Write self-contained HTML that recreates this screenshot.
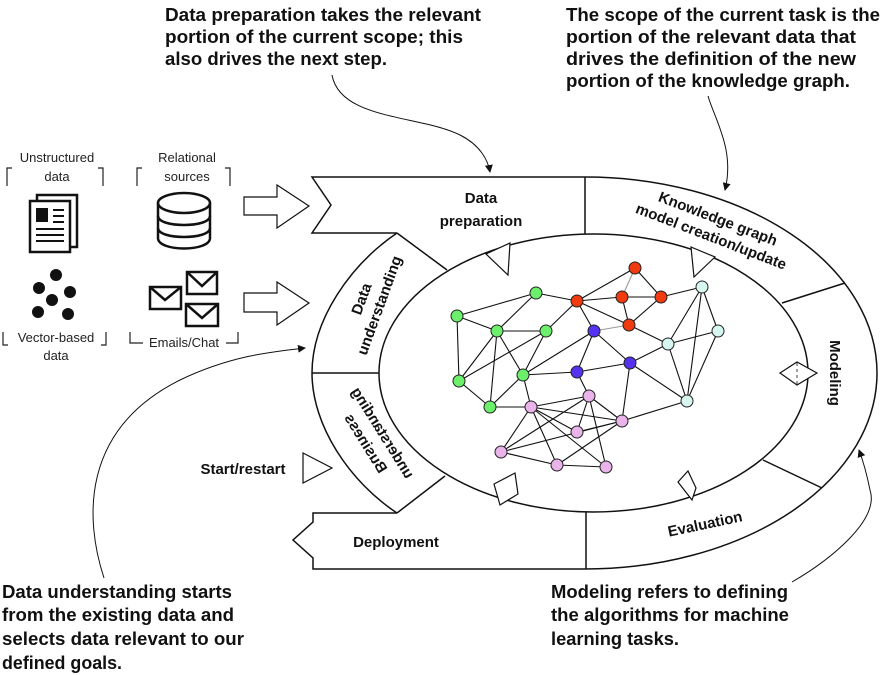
<!DOCTYPE html>
<html><head><meta charset="utf-8"><style>
html,body{margin:0;padding:0;background:#fff;}
svg{display:block;}
.ann{font-family:"Liberation Sans Narrow","Liberation Sans",sans-serif;font-weight:bold;font-size:18px;fill:#111;}
.lb{font-family:"Liberation Sans",sans-serif;font-weight:bold;font-size:15px;fill:#111;}
.sm{font-family:"Liberation Sans",sans-serif;font-size:13px;fill:#222;}
</style></head><body>
<svg width="880" height="675" viewBox="0 0 880 675" xmlns="http://www.w3.org/2000/svg">
<defs><marker id="ah" markerWidth="8" markerHeight="8" refX="7" refY="4" orient="auto" markerUnits="userSpaceOnUse"><path d="M0,0 L8,4 L0,8 z" fill="#111"/></marker></defs>

<text class="ann" x="165" y="21" textLength="316" lengthAdjust="spacingAndGlyphs">Data preparation takes the relevant</text>
<text class="ann" x="165" y="43" textLength="298" lengthAdjust="spacingAndGlyphs">portion of the current scope; this</text>
<text class="ann" x="165" y="65" textLength="222" lengthAdjust="spacingAndGlyphs">also drives the next step.</text>
<text class="ann" x="566" y="21" textLength="314" lengthAdjust="spacingAndGlyphs">The scope of the current task is the</text>
<text class="ann" x="566" y="43" textLength="290" lengthAdjust="spacingAndGlyphs">portion of the relevant data that</text>
<text class="ann" x="566" y="65" textLength="290" lengthAdjust="spacingAndGlyphs">drives the definition of the new</text>
<text class="ann" x="566" y="87" textLength="284" lengthAdjust="spacingAndGlyphs">portion of the knowledge graph.</text>
<text class="ann" x="2" y="598" textLength="230" lengthAdjust="spacingAndGlyphs">Data understanding starts</text>
<text class="ann" x="2" y="621" textLength="232" lengthAdjust="spacingAndGlyphs">from the existing data and</text>
<text class="ann" x="2" y="645" textLength="242" lengthAdjust="spacingAndGlyphs">selects data relevant to our</text>
<text class="ann" x="2" y="669" textLength="120" lengthAdjust="spacingAndGlyphs">defined goals.</text>
<text class="ann" x="551" y="598" textLength="237" lengthAdjust="spacingAndGlyphs">Modeling refers to defining</text>
<text class="ann" x="551" y="621" textLength="238" lengthAdjust="spacingAndGlyphs">the algorithms for machine</text>
<text class="ann" x="551" y="645" textLength="128" lengthAdjust="spacingAndGlyphs">learning tasks.</text>

<g fill="none" stroke="#111" stroke-width="1">
<path d="M332,75 C340,120 420,115 460,135 C480,145 488,160 490,172" marker-end="url(#ah)"/>
<path d="M708,96 C715,120 735,150 725,190" marker-end="url(#ah)"/>
<path d="M104,578 C85,520 80,430 180,380 C230,356 270,352 305,348" marker-end="url(#ah)"/>
<path d="M792,582 C830,560 880,520 870,490 C866,470 862,458 859,450" marker-end="url(#ah)"/>
</g>

<g fill="none" stroke="#111" stroke-width="1.5">
<path d="M397,233 L312,233 L331,205 L312,177 L585,177 A292,196 0 0 1 585,569 L313,569 L313,558 L293,540 L313,522 L313,513 L397,513"/>
<path d="M397,233 C350,265 312,320 312,373 C312,426 350,482 397,513"/>
<ellipse cx="593.5" cy="373" rx="214.5" ry="139"/>
<line x1="585" y1="177" x2="585" y2="234"/>
<line x1="586" y1="512" x2="586" y2="569"/>
<line x1="312" y1="373" x2="379" y2="373"/>
<line x1="397" y1="233" x2="447" y2="270"/>
<line x1="397" y1="513" x2="445" y2="476"/>
<line x1="782" y1="303" x2="845" y2="283"/>
<line x1="763" y1="460" x2="822" y2="488"/>
</g>
<g fill="#fff" stroke="#111" stroke-width="1.2">
<path d="M244,197 L277,197 L277,185 L309,206 L277,228 L277,215 L244,215 z"/>
<path d="M244,293 L277,293 L277,282 L309,303 L277,325 L277,312 L244,312 z"/>
<path d="M303,453 L332,468 L303,483 z"/>
<path d="M486,254 L510,243 L508,275 z"/>
<path d="M691,247 L715,257 L694,277 z"/>
<path d="M780,373 L797,362 L817,373 L797,385 z"/>
<path d="M494,484 L515,473 L518,494 L500,505 z"/>
<path d="M678,482 L688,471 L696,488 L692,500 z"/>
</g>
<g stroke="#111" stroke-width="0.8" stroke-dasharray="3,3"><line x1="797" y1="363" x2="797" y2="384"/></g>

<text class="lb" x="481" y="203" text-anchor="middle">Data</text>
<text class="lb" x="481" y="226" text-anchor="middle">preparation</text>
<g transform="translate(714,229) rotate(21)"><text class="lb" x="0" y="-6" text-anchor="middle">Knowledge graph</text><text class="lb" x="0" y="13" text-anchor="middle">model creation/update</text></g>
<g transform="translate(370,302) rotate(-70)"><text class="lb" x="0" y="-4" text-anchor="middle">Data</text><text class="lb" x="0" y="15" text-anchor="middle">understanding</text></g>
<g transform="translate(376,437) rotate(-122) scale(1,-1)"><text class="lb" x="0" y="-3" text-anchor="middle">understanding</text><text class="lb" x="0" y="17" text-anchor="middle">Business</text></g>
<g transform="translate(835,373) rotate(90)"><text class="lb" x="0" y="5" text-anchor="middle">Modeling</text></g>
<g transform="translate(705,524) rotate(-12)"><text class="lb" x="0" y="5" text-anchor="middle">Evaluation</text></g>
<text class="lb" x="396" y="547" text-anchor="middle">Deployment</text>
<text class="lb" x="243" y="474" text-anchor="middle" font-size="14">Start/restart</text>

<g stroke="#111" stroke-width="1.1">
<line x1="635" y1="268" x2="577" y2="301"/><line x1="635" y1="268" x2="661" y2="297"/>
<line x1="635" y1="268" x2="622" y2="297" stroke="#999"/>
<line x1="577" y1="301" x2="622" y2="297"/><line x1="622" y1="297" x2="661" y2="297"/>
<line x1="622" y1="297" x2="629" y2="325"/><line x1="661" y1="297" x2="629" y2="325"/>
<line x1="661" y1="297" x2="702" y2="287"/><line x1="577" y1="301" x2="629" y2="325"/>
<line x1="577" y1="301" x2="594" y2="331"/><line x1="577" y1="301" x2="536" y2="293"/>
<line x1="577" y1="301" x2="546" y2="331"/><line x1="629" y1="325" x2="594" y2="331" stroke="#999"/>
<line x1="629" y1="325" x2="668" y2="344"/>
<line x1="536" y1="293" x2="457" y2="316"/><line x1="536" y1="293" x2="497" y2="331"/>
<line x1="457" y1="316" x2="497" y2="331"/><line x1="457" y1="316" x2="459" y2="381"/>
<line x1="497" y1="331" x2="546" y2="331"/><line x1="497" y1="331" x2="459" y2="381"/>
<line x1="497" y1="331" x2="490" y2="407"/><line x1="497" y1="331" x2="523" y2="375"/>
<line x1="546" y1="331" x2="459" y2="381"/><line x1="546" y1="331" x2="523" y2="375"/>
<line x1="459" y1="381" x2="490" y2="407"/><line x1="523" y1="375" x2="490" y2="407"/>
<line x1="490" y1="407" x2="531" y2="407"/><line x1="523" y1="375" x2="531" y2="407"/>
<line x1="523" y1="375" x2="577" y2="372"/><line x1="594" y1="331" x2="523" y2="375"/>
<line x1="594" y1="331" x2="577" y2="372"/><line x1="594" y1="331" x2="630" y2="363"/>
<line x1="577" y1="372" x2="630" y2="363"/><line x1="577" y1="372" x2="589" y2="396"/>
<line x1="630" y1="363" x2="668" y2="344"/><line x1="630" y1="363" x2="687" y2="401"/>
<line x1="630" y1="363" x2="622" y2="421"/>
<line x1="702" y1="287" x2="668" y2="344"/><line x1="702" y1="287" x2="687" y2="401"/>
<line x1="702" y1="287" x2="718" y2="331"/><line x1="718" y1="331" x2="668" y2="344"/>
<line x1="718" y1="331" x2="687" y2="401"/><line x1="668" y1="344" x2="687" y2="401"/>
<line x1="687" y1="401" x2="622" y2="421"/>
<line x1="531" y1="407" x2="589" y2="396"/><line x1="531" y1="407" x2="622" y2="421"/>
<line x1="531" y1="407" x2="577" y2="432"/><line x1="531" y1="407" x2="501" y2="452"/>
<line x1="531" y1="407" x2="557" y2="465"/><line x1="531" y1="407" x2="606" y2="467"/>
<line x1="589" y1="396" x2="577" y2="432"/><line x1="589" y1="396" x2="501" y2="452"/>
<line x1="589" y1="396" x2="606" y2="467"/><line x1="589" y1="396" x2="622" y2="421"/>
<line x1="577" y1="432" x2="622" y2="421"/><line x1="501" y1="452" x2="622" y2="421"/>
<line x1="501" y1="452" x2="557" y2="465"/><line x1="557" y1="465" x2="606" y2="467"/>
<line x1="557" y1="465" x2="622" y2="421"/>
</g>
<g stroke="#222" stroke-width="1">
<g fill="#f03a10"><circle cx="635" cy="268" r="6"/><circle cx="622" cy="297" r="6"/><circle cx="661" cy="297" r="6"/><circle cx="629" cy="325" r="6"/><circle cx="577" cy="301" r="6"/></g>
<g fill="#6cf06c"><circle cx="536" cy="293" r="6"/><circle cx="457" cy="316" r="6"/><circle cx="497" cy="331" r="6"/><circle cx="546" cy="331" r="6"/><circle cx="459" cy="381" r="6"/><circle cx="523" cy="375" r="6"/><circle cx="490" cy="407" r="6"/></g>
<g fill="#5533ee"><circle cx="594" cy="331" r="6"/><circle cx="577" cy="372" r="6"/><circle cx="630" cy="363" r="6"/></g>
<g fill="#d8f6f0"><circle cx="702" cy="287" r="6"/><circle cx="718" cy="331" r="6"/><circle cx="668" cy="344" r="6"/><circle cx="687" cy="401" r="6"/></g>
<g fill="#eab4ea"><circle cx="531" cy="407" r="6"/><circle cx="589" cy="396" r="6"/><circle cx="622" cy="421" r="6"/><circle cx="577" cy="432" r="6"/><circle cx="501" cy="452" r="6"/><circle cx="557" cy="465" r="6"/><circle cx="606" cy="467" r="6"/></g>
</g>

<text class="sm" x="57" y="162" text-anchor="middle">Unstructured</text>
<text class="sm" x="57" y="181" text-anchor="middle">data</text>
<path d="M7,186 V168 H12 M98,168 H103 V186" fill="none" stroke="#222" stroke-width="1.2"/>
<text class="sm" x="187" y="162" text-anchor="middle">Relational</text>
<text class="sm" x="187" y="181" text-anchor="middle">sources</text>
<path d="M137,186 V168 H142 M225,168 H230 V186" fill="none" stroke="#222" stroke-width="1.2"/>
<g stroke="#111" stroke-width="2.5" fill="#fff">
<rect x="37" y="195" width="40" height="52"/>
<rect x="30" y="201" width="40" height="51"/>
</g>
<rect x="36" y="208" width="12" height="14" fill="#111"/>
<g stroke="#111" stroke-width="2"><line x1="53" y1="210" x2="64" y2="210"/><line x1="53" y1="216" x2="64" y2="216"/><line x1="53" y1="222" x2="64" y2="222"/><line x1="36" y1="229" x2="64" y2="229"/><line x1="36" y1="235" x2="64" y2="235"/><line x1="36" y1="241" x2="64" y2="241"/></g>
<g stroke="#111" stroke-width="2.5" fill="#fff">
<path d="M158,203 V238 C158,252 210,252 210,238 V203"/>
<ellipse cx="184" cy="203" rx="26" ry="10"/>
<path d="M158,216 C158,228 210,228 210,216 M158,228 C158,240 210,240 210,228" fill="none"/>
</g>
<g fill="#111"><circle cx="56" cy="275" r="6"/><circle cx="39" cy="288" r="6"/><circle cx="70" cy="292" r="6"/><circle cx="52" cy="300" r="6"/><circle cx="38" cy="312" r="6"/><circle cx="68" cy="314" r="6"/></g>
<g stroke="#111" stroke-width="2.5" fill="#fff">
<rect x="187" y="272" width="30" height="22"/><path d="M187,272 L202,286 L217,272" fill="none"/>
<rect x="150" y="287" width="31" height="22"/><path d="M150,287 L165,300 L181,287" fill="none"/>
<rect x="186" y="304" width="32" height="22"/><path d="M186,304 L202,318 L218,304" fill="none"/>
</g>
<text class="sm" x="56" y="342" text-anchor="middle">Vector-based</text>
<text class="sm" x="56" y="360" text-anchor="middle">data</text>
<path d="M3,332 V345 H8 M106,332 V345 H101" fill="none" stroke="#222" stroke-width="1.2"/>
<text class="sm" x="184" y="347" text-anchor="middle">Emails/Chat</text>
<path d="M130,332 V343 H143 M238,332 V343 H226" fill="none" stroke="#222" stroke-width="1.2"/>
</svg>
</body></html>
